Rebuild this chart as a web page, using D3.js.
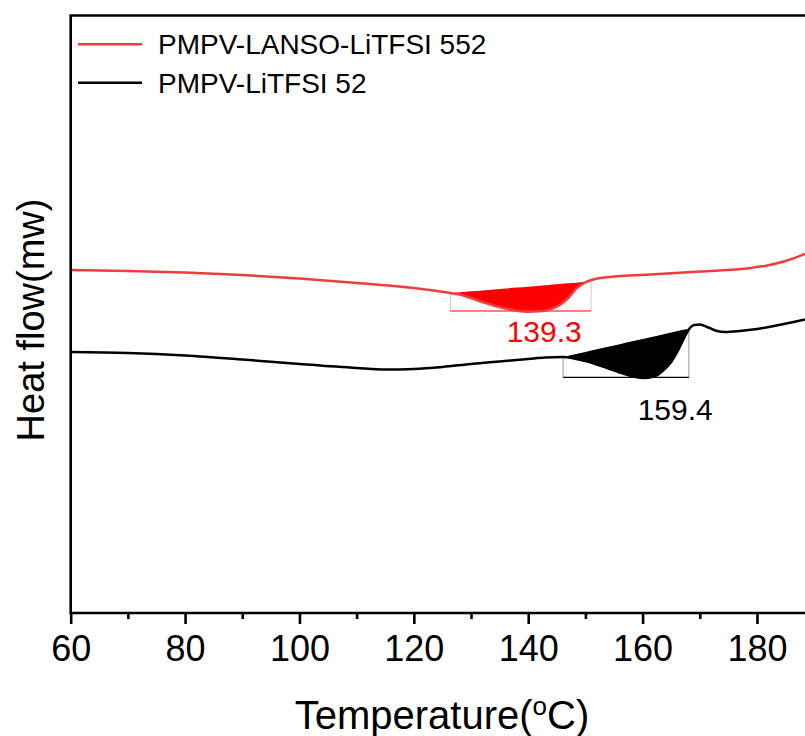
<!DOCTYPE html>
<html>
<head>
<meta charset="utf-8">
<script src="https://cdn.jsdelivr.net/npm/d3@7"></script>
<style>
  body { margin: 0; background: #fff; }
  svg { display: block; font-family: "Liberation Sans", Arial, sans-serif; }
</style>
</head>
<body>
<div id="chart"></div>
<script>
const width = 805;
const height = 736;

// DSC traces (temperature in C, heat flow in arbitrary units)
const redTemp = [60, 70, 80, 90, 100, 110, 120, 126.4, 128, 130, 132, 134, 136, 138, 140, 142, 144, 145.5, 147, 148.5, 149.8, 150.8, 152.6, 161.4, 170.1, 178.9, 181.8, 185, 188.4];
const redFlow = [34.3, 34.2, 34.05, 33.8, 33.45, 33.0, 32.5, 32.0, 31.85, 31.5, 31.1, 30.75, 30.45, 30.23, 30.13, 30.17, 30.4, 30.8, 31.5, 32.5, 33.0, 33.25, 33.5, 33.85, 34.15, 34.5, 34.75, 35.2, 35.9];

const blackTemp = [60, 70, 80, 90, 100, 110, 115, 120, 125, 130, 135, 140, 143, 146.1, 148, 150, 152, 154, 156, 158, 160, 162, 163.5, 165, 166.5, 167.8, 168.2, 169, 170, 171.5, 173, 174.5, 177, 180, 183, 186, 188.4];
const blackFlow = [26.1, 26.0, 25.75, 25.35, 24.9, 24.5, 24.35, 24.4, 24.6, 24.9, 25.15, 25.4, 25.55, 25.6, 25.45, 25.2, 24.85, 24.45, 24.05, 23.7, 23.5, 23.65, 24.2, 25.1, 26.6, 28.1, 28.45, 28.8, 28.85, 28.55, 28.2, 28.1, 28.2, 28.4, 28.7, 29.05, 29.35];

const seriesNames = ["PMPV-LANSO-LiTFSI 552", "PMPV-LiTFSI 52"];
const seriesColors = ["#f03c3c", "#000000"];
const fillColors = ["#ff0000", "#000000"];

// melting peak integration: [onset T, end T, onset flow, end flow, bracket bottom]
const peakRed = [126.4, 151.0, 32.0, 33.15, 30.2];
const peakBlack = [146.1, 168.1, 25.6, 28.45, 23.57];
const peakLabels = ["139.3", "159.4"];
const peakLabelPos = [[142.8, 27.13], [165.7, 19.3]];

const xTicks = [60, 80, 100, 120, 140, 160, 180];
const xMinor = [70, 90, 110, 130, 150, 170];

const margin = { left: 70.7, top: 15.5, bottom: 613 };

const x = d3.scaleLinear().domain([60, 188.4]).range([margin.left, 805]);
const y = d3.scaleLinear().domain([0, 59.75]).range([margin.bottom, margin.top]);

const svg = d3.select("#chart").append("svg")
  .attr("width", width)
  .attr("height", height);

const redData = redTemp.map((t, i) => ({ t: t, v: redFlow[i] }));
const blackData = blackTemp.map((t, i) => ({ t: t, v: blackFlow[i] }));

const line = d3.line()
  .x(d => x(d.t))
  .y(d => y(d.v))
  .curve(d3.curveMonotoneX);

function drawPeak(data, peak, i) {
  const [t0, t1, v0, v1, vb] = peak;
  const base = t => v0 + (v1 - v0) * (t - t0) / (t1 - t0);
  const inside = data.filter(d => d.t >= t0 && d.t <= t1);
  const area = d3.area()
    .x(d => x(d.t))
    .y0(d => y(base(d.t)))
    .y1(d => y(d.v))
    .curve(d3.curveMonotoneX);
  svg.append("path")
    .datum(inside)
    .attr("d", area)
    .attr("fill", fillColors[i]);
  // bracket: faint sides, coloured bottom
  svg.append("path")
    .attr("d", `M${x(t0)},${y(v0)}V${y(vb)}M${x(t1)},${y(vb)}V${y(v1)}`)
    .attr("fill", "none")
    .attr("stroke", i === 0 ? "#e0c8c8" : "#999")
    .attr("stroke-width", 1);
  svg.append("line")
    .attr("x1", x(t0)).attr("x2", x(t1))
    .attr("y1", y(vb)).attr("y2", y(vb))
    .attr("stroke", i === 0 ? "#ff0000" : "#000")
    .attr("stroke-width", 1.2);
  svg.append("text")
    .attr("x", x(peakLabelPos[i][0]))
    .attr("y", y(peakLabelPos[i][1]))
    .attr("text-anchor", "middle")
    .attr("font-size", 30)
    .attr("fill", i === 0 ? "#ff0000" : "#000")
    .text(peakLabels[i]);
}

drawPeak(redData, peakRed, 0);
drawPeak(blackData, peakBlack, 1);

[redData, blackData].forEach((data, i) => {
  svg.append("path")
    .datum(data)
    .attr("d", line)
    .attr("fill", "none")
    .attr("stroke", seriesColors[i])
    .attr("stroke-width", 2.5);
});

// frame: left, top, bottom
svg.append("path")
  .attr("d", `M805,${margin.top}H${margin.left}V${margin.bottom}H805`)
  .attr("fill", "none")
  .attr("stroke", "#000")
  .attr("stroke-width", 2.6);

const xAxis = svg.append("g")
  .attr("transform", `translate(0,${margin.bottom})`)
  .call(d3.axisBottom(x).tickValues(xTicks).tickSize(11).tickPadding(11).tickFormat(d3.format("d")));
xAxis.select(".domain").remove();
xAxis.selectAll(".tick line").attr("stroke-width", 2.6);
xAxis.selectAll("text").attr("font-size", 36).attr("fill", "#000")
  .attr("font-family", "Liberation Sans, Arial, sans-serif");

const xMinorAxis = svg.append("g")
  .attr("transform", `translate(0,${margin.bottom})`)
  .call(d3.axisBottom(x).tickValues(xMinor).tickSize(6).tickFormat(""));
xMinorAxis.select(".domain").remove();
xMinorAxis.selectAll(".tick line").attr("stroke-width", 2.6);

// axis titles
const xTitle = svg.append("text")
  .attr("x", 442)
  .attr("y", 729)
  .attr("text-anchor", "middle")
  .attr("font-size", 40);
xTitle.append("tspan").text("Temperature(");
xTitle.append("tspan").attr("font-size", 26).attr("dy", -14).text("o");
xTitle.append("tspan").attr("dy", 14).text("C)");

svg.append("text")
  .attr("transform", "translate(44,320) rotate(-90)")
  .attr("text-anchor", "middle")
  .attr("font-size", 38)
  .text("Heat flow(mw)");

// legend
const legend = svg.append("g");
seriesNames.forEach((name, i) => {
  const ly = 44.3 + i * 38.4;
  legend.append("line")
    .attr("x1", 78).attr("x2", 142)
    .attr("y1", ly).attr("y2", ly)
    .attr("stroke", seriesColors[i])
    .attr("stroke-width", 2.5);
  legend.append("text")
    .attr("x", 158)
    .attr("y", ly + 10)
    .attr("font-size", 28)
    .text(name);
});
</script>
</body>
</html>
